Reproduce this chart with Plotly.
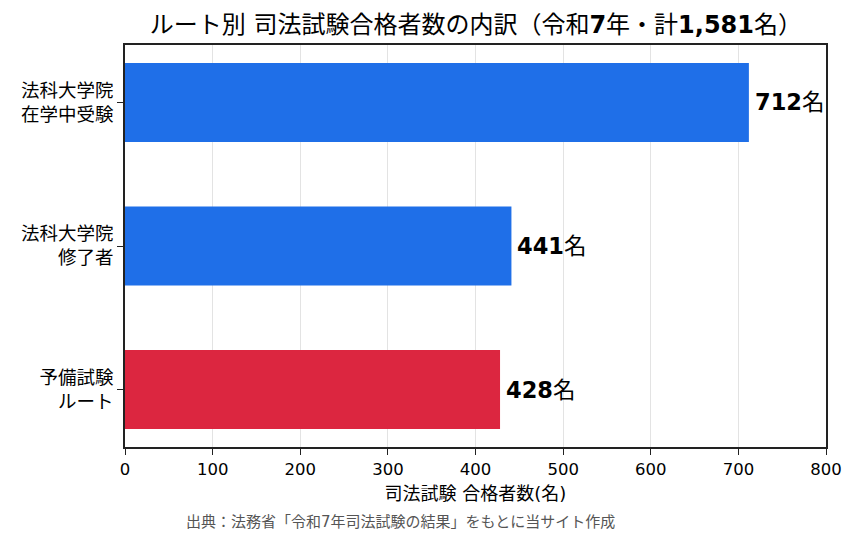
import plotly.graph_objects as go

categories = ["予備試験<br>ルート", "法科大学院<br>修了者", "法科大学院<br>在学中受験"]
values = [428, 441, 712]
colors = ["#DC2640", "#1F6FE8", "#1F6FE8"]
x_ticks = [0, 100, 200, 300, 400, 500, 600, 700, 800]

FONT = "DejaVu Sans, Noto Sans CJK JP, sans-serif"

fig = go.Figure()
fig.add_trace(go.Bar(
    x=values, y=categories, orientation="h",
    marker=dict(color=colors, line=dict(width=0)),
    width=0.55,
    hoverinfo="skip",
))

for c, v in zip(categories, values):
    fig.add_annotation(
        x=v, y=c, xref="x", yref="y",
        text=f"<b>{v}</b>名", showarrow=False,
        xanchor="left", xshift=4,
        font=dict(size=22.5, color="black", family=FONT),
    )

fig.add_annotation(
    x=0.5, y=-0.187, xref="paper", yref="paper",
    text="出典：法務省「令和7年司法試験の結果」をもとに当サイト作成",
    showarrow=False, xanchor="center", yanchor="middle", xshift=-75,
    font=dict(size=15, color="#555555", family=FONT),
)

fig.update_layout(
    width=859, height=543,
    margin=dict(l=125, r=33, t=45, b=96),
    paper_bgcolor="white", plot_bgcolor="white",
    showlegend=False,
    font=dict(family=FONT, color="black"),
    title=dict(
        text="ルート別 司法試験合格者数の内訳（令和<b>7</b>年・計<b>1,581</b>名）",
        x=0.554, xanchor="center", y=0.955, yanchor="middle",
        font=dict(size=24, color="black", family=FONT),
    ),
    xaxis=dict(
        range=[0, 800], tickvals=x_ticks, ticktext=[str(t) for t in x_ticks],
        showgrid=True, gridcolor="#e3e3e3", gridwidth=1,
        showline=True, linecolor="#222222", linewidth=1.5, mirror=True,
        ticks="outside", ticklen=6, tickcolor="#222222",
        tickfont=dict(size=16.5), zeroline=False,
        title=dict(text="司法試験 合格者数(名)", font=dict(size=18), standoff=10),
    ),
    yaxis=dict(
        range=[-0.4, 2.4],
        showgrid=False,
        showline=True, linecolor="#222222", linewidth=1.5, mirror=True,
        ticks="outside", ticklen=6, tickcolor="#222222",
        tickfont=dict(size=18.5),
    ),
)

fig.write_html("out.html")
